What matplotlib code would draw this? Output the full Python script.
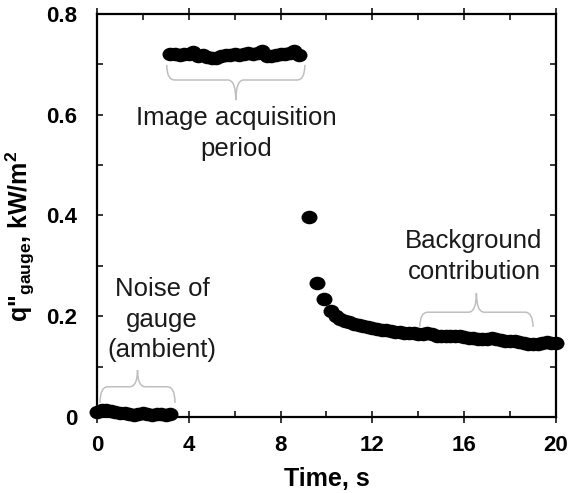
import numpy as np
import matplotlib
matplotlib.use("Agg")
import matplotlib.pyplot as plt
from matplotlib.path import Path
from matplotlib.patches import PathPatch
from matplotlib.transforms import Affine2D

plt.rcParams['font.family'] = ['Liberation Sans', 'DejaVu Sans']
plt.rcParams['mathtext.fontset'] = 'custom'
plt.rcParams['mathtext.rm'] = 'Liberation Sans'
plt.rcParams['mathtext.bf'] = 'Liberation Sans:bold'
plt.rcParams['mathtext.it'] = 'Liberation Sans:italic'

# noise of gauge (ambient)
t_noise = [0.0, 0.2, 0.4, 0.6, 0.8, 1.0, 1.2, 1.4, 1.6, 1.8, 2.0, 2.2, 2.4, 2.6, 2.8, 3.0, 3.2]
q_noise = [0.010, 0.013, 0.014, 0.012, 0.010, 0.008, 0.007, 0.006, 0.004, 0.006,
           0.007, 0.005, 0.004, 0.006, 0.005, 0.004, 0.005]

# image acquisition period
t_acq = [3.2, 3.4, 3.6, 3.8, 4.0, 4.2, 4.4, 4.6, 4.8, 5.0, 5.2, 5.4, 5.6, 5.8, 6.0,
         6.2, 6.4, 6.6, 6.8, 7.0, 7.2, 7.4, 7.6, 7.8, 8.0, 8.2, 8.4, 8.6, 8.8]
q_acq = [0.720, 0.720, 0.719, 0.720, 0.721, 0.724, 0.716, 0.719, 0.714, 0.712,
         0.713, 0.716, 0.718, 0.719, 0.720, 0.719, 0.721, 0.722, 0.721, 0.723,
         0.726, 0.717, 0.716, 0.719, 0.720, 0.720, 0.722, 0.726, 0.719]

# background contribution after acquisition
t_bg = [9.25, 9.6, 9.9, 10.2, 10.4, 10.6, 10.8, 11.0, 11.2, 11.4, 11.6, 11.8, 12.0,
        12.2, 12.4, 12.6, 12.8, 13.0, 13.2, 13.4, 13.6, 13.8, 14.0, 14.2, 14.4, 14.6,
        14.8, 15.0, 15.2, 15.4, 15.6, 15.8, 16.0, 16.2, 16.4, 16.6, 16.8, 17.0, 17.2,
        17.4, 17.6, 17.8, 18.0, 18.2, 18.4, 18.6, 18.8, 19.0, 19.2, 19.4, 19.6, 19.8, 20.0]
q_bg = [0.397, 0.266, 0.234, 0.210, 0.200, 0.195, 0.191, 0.188, 0.185, 0.182, 0.180,
        0.178, 0.176, 0.175, 0.173, 0.172, 0.170, 0.169, 0.168, 0.167, 0.166, 0.166,
        0.165, 0.164, 0.167, 0.165, 0.160, 0.160, 0.161, 0.160, 0.161, 0.160, 0.158,
        0.157, 0.156, 0.155, 0.155, 0.154, 0.156, 0.154, 0.152, 0.151, 0.151, 0.150,
        0.149, 0.147, 0.145, 0.144, 0.144, 0.147, 0.148, 0.147, 0.146]

x_ticks = [0, 4, 8, 12, 16, 20]
y_ticks = [0, 0.2, 0.4, 0.6, 0.8]
y_ticklabels = ["0", "0.2", "0.4", "0.6", "0.8"]

t_all = t_noise + t_acq + t_bg
q_all = q_noise + q_acq + q_bg

# slightly wide dot, like the original markers
dot = Path.unit_circle().transformed(Affine2D().scale(1.18, 1.0))


def brace(ax, x0, x1, y_end, y_mid, y_tip, r=0.35):
    xc = 0.5 * (x0 + x1)
    verts = [(x0, y_end), (x0, y_mid), (x0 + r, y_mid),
             (xc - r, y_mid), (xc, y_mid), (xc, y_tip),
             (xc, y_mid), (xc + r, y_mid),
             (x1 - r, y_mid), (x1, y_mid), (x1, y_end)]
    codes = [Path.MOVETO, Path.CURVE3, Path.CURVE3,
             Path.LINETO, Path.CURVE3, Path.CURVE3,
             Path.CURVE3, Path.CURVE3,
             Path.LINETO, Path.CURVE3, Path.CURVE3]
    ax.add_patch(PathPatch(Path(verts, codes), fill=False, edgecolor='#bfbfbf', lw=1.1,
                           clip_on=False))


fig = plt.figure(figsize=(5.69, 4.93), dpi=100)
ax = fig.add_axes([0.1705, 0.1542, 0.8065, 0.8174])

ax.plot(t_all, q_all, linestyle='none', marker=dot, markersize=11.5,
        color='black', markeredgewidth=0, clip_on=False, zorder=3)

ax.set_xlim(0, 20)
ax.set_ylim(0, 0.8)
ax.set_xticks(x_ticks)
ax.set_xticks([2, 6, 10, 14, 18], minor=True)
ax.set_yticks(y_ticks)
ax.set_yticklabels(y_ticklabels)
ax.set_yticks([0.1, 0.3, 0.5, 0.7], minor=True)

for s in ax.spines.values():
    s.set_linewidth(1.6)

ax.tick_params(axis='both', which='both', top=True, right=True, width=1.1,
               labelsize=16, colors='black')
ax.tick_params(axis='x', which='major', direction='inout', length=9, pad=8.5)
ax.tick_params(axis='x', which='minor', direction='in', length=4)
ax.tick_params(axis='y', which='both', direction='in', length=4.5, pad=14)
for lab in ax.get_xticklabels() + ax.get_yticklabels():
    lab.set_fontweight('bold')

ax.set_xlabel("Time, s", fontsize=18, fontweight='bold', labelpad=8)
ax.set_ylabel(r'q"$_{\mathbf{gauge}}$, kW/m$^{\mathbf{2}}$', fontsize=18,
              fontweight='bold')
ax.yaxis.set_label_coords(-0.131, 0.449)

txt_color = '#1a1a1a'
ax.text(2.83, 0.193, "Noise of\ngauge\n(ambient)", ha='center', va='center',
        fontsize=18.5, color=txt_color, linespacing=1.33)
ax.text(6.06, 0.562, "Image acquisition\nperiod", ha='center', va='center',
        fontsize=18.5, color=txt_color, linespacing=1.36)
ax.text(16.43, 0.318, "Background\ncontribution", ha='center', va='center',
        fontsize=18.5, color=txt_color, linespacing=1.36)

brace(ax, 3.04, 9.06, 0.699, 0.669, 0.629)
brace(ax, 0.13, 3.40, 0.028, 0.060, 0.093)
brace(ax, 14.07, 19.0, 0.179, 0.208, 0.246)

fig.savefig("out.png", dpi=100)
